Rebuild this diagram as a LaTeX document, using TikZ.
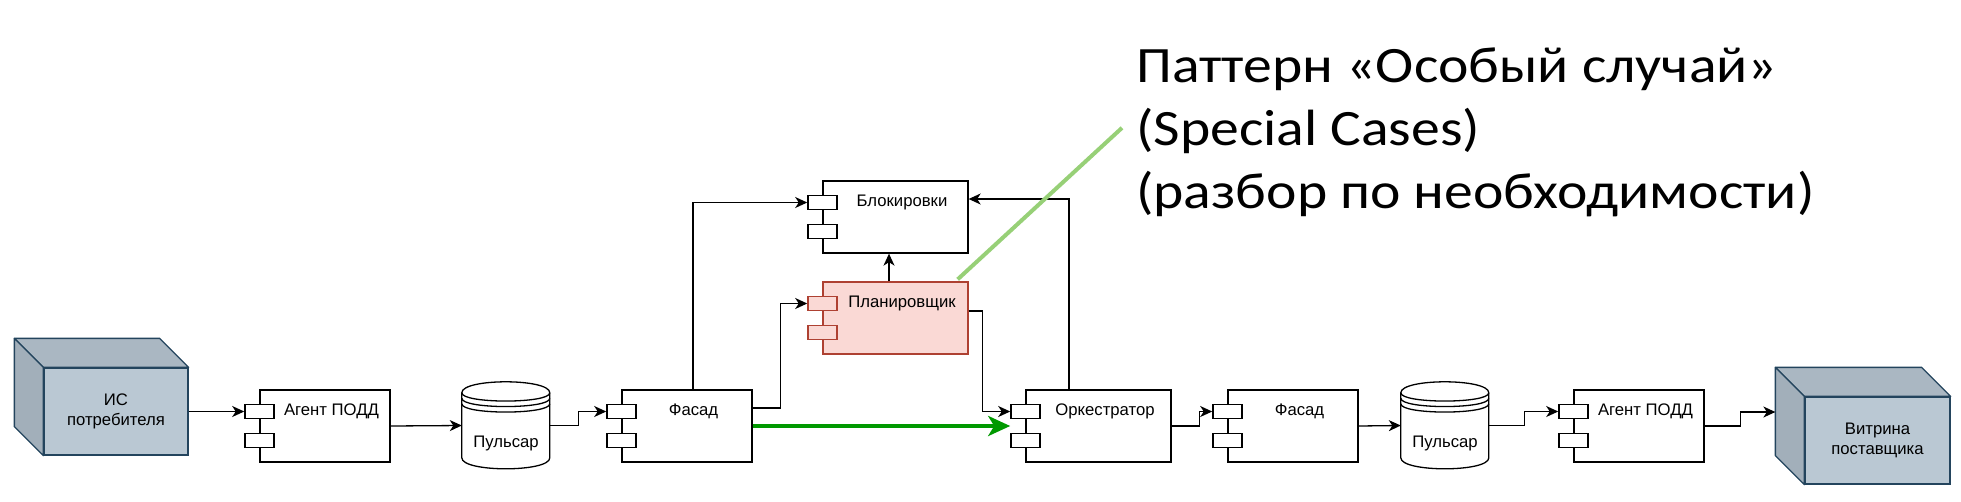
\documentclass[tikz,border=0pt]{standalone}
\usepackage{fontspec}
\setmainfont{Liberation Sans}
\newfontfamily\titlefont[FakeStretch=1.13]{Carlito}
\usetikzlibrary{arrows.meta}

\definecolor{cubefront}{HTML}{BAC8D3}
\definecolor{cubetop}{HTML}{AAB7C2}
\definecolor{cubeside}{HTML}{A2AFBA}
\definecolor{cubeedge}{HTML}{23445D}
\definecolor{planfill}{HTML}{FAD9D5}
\definecolor{planedge}{HTML}{AE4132}
\definecolor{okgreen}{HTML}{009900}
\definecolor{notegreen}{HTML}{97D077}

\newcommand{\diagfont}{\fontsize{16.7}{20}\selectfont}

\tikzset{
  box/.style={draw, line width=1.3pt, inner sep=0pt, minimum height=72pt},
  port/.style={draw, line width=1.3pt, inner sep=0pt, minimum width=29pt, minimum height=14.5pt},
  lab/.style={anchor=base, xshift=6.5pt, yshift=-26pt, inner sep=0pt},
  store/.style={inner sep=0pt, minimum width=88pt, minimum height=87pt},
  cube/.style={draw=cubeedge, fill=cubefront, line width=1.3pt, inner sep=0pt, minimum height=87pt, align=center},
  flow/.style={line width=1.3pt, -{Stealth[length=12pt, width=11pt, inset=3.5pt]}},
  mainflow/.style={draw=okgreen, line width=4pt, -{Stealth[length=22pt, width=20pt, inset=6pt]}},
  note/.style={draw=notegreen, line width=4pt},
}

\begin{document}
\begin{tikzpicture}[x=1pt, y=-1pt, every node/.append style={font=\diagfont}]
  \useasboundingbox (0,0) rectangle (1961,501);

  % systems at both ends
  \node[cube, minimum width=144pt] (cons) at (116,411.5) {ИС\\потребителя};
  \node[cube, minimum width=145pt] (vitr) at (1877.5,440.5) {Витрина\\поставщика};
  \foreach \cname in {cons,vitr} {
    \filldraw[draw=cubeedge, fill=cubetop, line width=1.3pt, line join=round]
      (\cname.north west) -- ++(-29,-29) -- ([shift={(-29,-29)}]\cname.north east) -- (\cname.north east) -- cycle;
    \filldraw[draw=cubeedge, fill=cubeside, line width=1.3pt, line join=round]
      (\cname.north west) -- ++(-29,-29) -- ([shift={(-29,-29)}]\cname.south west) -- (\cname.south west) -- cycle;
  }
  \coordinate (vitr-in) at ([xshift=-29pt, yshift=28.5pt]vitr.west);

  % components
  \foreach \bname/\bx/\by/\bw/\btext/\bdraw/\bfill in {
      agenta/325/426/130/Агент ПОДД/black/white,
      fasada/687/426/130/Фасад/black/white,
      lock/895.5/217/145/Блокировки/black/white,
      plan/895.5/318/145/Планировщик/planedge/planfill,
      orch/1098.5/426/145/Оркестратор/black/white,
      fasadb/1293/426/130/Фасад/black/white,
      agentb/1639/426/130/Агент ПОДД/black/white} {
    \node[box, draw=\bdraw, fill=\bfill, minimum width=\bw, label={[lab]north:\btext}] (\bname) at (\bx,\by) {};
    \node[port, draw=\bdraw, fill=\bfill] (\bname-p1) at ([yshift=14.5pt]\bname.west) {};
    \node[port, draw=\bdraw, fill=\bfill] (\bname-p2) at ([yshift=-14.5pt]\bname.west) {};
  }

  % message queues
  \foreach \sname/\sx in {pulsa/506, pulsb/1445} {
    \node[store] (\sname) at (\sx,425.5) {};
    \filldraw[fill=white, line width=1.3pt, shift={(\sname.north west)}]
      (0,11) .. controls (0,-3.67) and (88,-3.67) .. (88,11) -- (88,76)
      .. controls (88,90.67) and (0,90.67) .. (0,76) -- cycle;
    \draw[line width=1.3pt, shift={(\sname.north west)}]
      (0,11) .. controls (0,22) and (88,22) .. (88,11)
      (0,16.5) .. controls (0,27.5) and (88,27.5) .. (88,16.5)
      (0,22) .. controls (0,33) and (88,33) .. (88,22);
    \node[inner sep=0pt, anchor=base] (\sname-t) at ([yshift=-66pt]\sname.north) {Пульсар};
  }

  % title
  \node[anchor=base west, align=left, inner sep=0pt, font=\titlefont\fontsize{51}{63}\selectfont] (title) at (1136,208)
    {Паттерн «Особый случай»\\(Special Cases)\\(разбор по необходимости)};

  \draw[flow] (cons.east) -- (agenta-p1.west);
  \draw[flow] (agenta.east) -- (pulsa.west);
  \draw[flow] (pulsa.east) -- ++(28,0) |- (fasada-p1.west);
  \draw[flow] ([xshift=6pt]fasada.north) |- (lock-p1.west);
  \draw[flow] ([yshift=18pt]fasada.east) -- ++(28,0) |- (plan-p1.west);
  \draw[flow] ([xshift=-6.5pt]plan.north) -- ([xshift=-6.5pt]lock.south);
  \draw[flow] ([yshift=7pt]plan.east) -- ++(14,0) |- (orch-p1.west);
  \draw[flow] ([xshift=-29.5pt]orch.north) |- ([yshift=18pt]lock.east);
  \draw[mainflow] (fasada.east) -- (orch-p1.west |- orch.center);
  \draw[flow] (orch.east) -- ++(28,0) |- (fasadb-p1.west);
  \draw[flow] (fasadb.east) -- (pulsb.west);
  \draw[flow] (pulsb.east) -- ++(35,0) |- (agentb-p1.west);
  \draw[flow] (agentb.east) -- ++(36,0) |- (vitr-in);
  \draw[note] ([xshift=-11pt, yshift=2pt]plan.north east) -- ([xshift=-14pt, yshift=4pt]title.west);
\end{tikzpicture}
\end{document}
